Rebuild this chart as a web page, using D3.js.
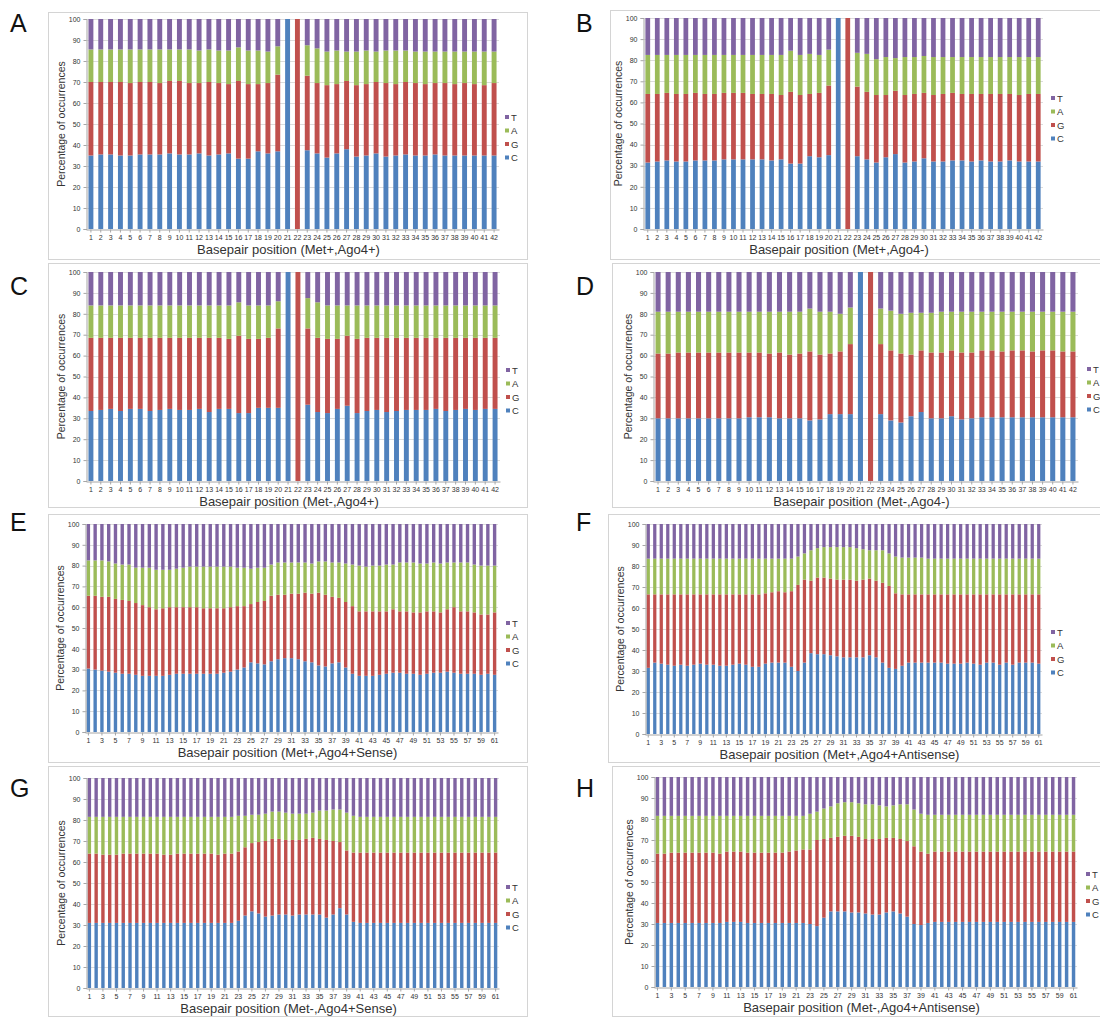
<!DOCTYPE html>
<html>
<head>
<meta charset="utf-8">
<script src="https://cdn.jsdelivr.net/npm/d3@7"></script>
<style>
body { margin:0; background:#fff; }
svg { font-family: "Liberation Sans", Arial, sans-serif; }
</style>
</head>
<body>
<script>
var W = 1100, H = 1018;

// bases, bottom to top of each stack
var bases = ["C", "G", "A", "T"];
var baseColors = {C:"#4f81bd", G:"#c0504d", A:"#9bbb59", T:"#8064a2"};
var yTicks = [0,10,20,30,40,50,60,70,80,90,100];

// panel A (Met+,Ago4+)
var aC = [35,35.5,35.5,35,35,35.5,35.5,35.5,36,35.5, 35.5,36,35,35.5,36,33.5,33.5,37,36,37, 100,0,37.5,36,34,36,38,34.5,35,36, 34.5,35,35.5,35,35,35.5,35,35,35,35, 35,35];
var aG = [35,34.5,34.5,35,34.5,34.5,34.5,34,34.5,35, 34,33.5,35,34,33,37,35.5,32,33.5,36.5, 0,100,35.5,33.5,34.5,33,32.5,34,34,34, 35,34,34.5,34.5,34,34,34.5,34,34.5,34, 33.5,34.5];
var aA = [15.5,15.5,15.5,15.5,16,15.5,15.5,16,15,15, 16,15.5,15.5,15.5,16,16,16,16,15,13.5, 0,0,14.5,16.5,16,16,14,16,16,14.5, 15.5,16,15,15,15.5,15,15,15.5,15,15.5, 16,15];
var aT = [14.5,14.5,14.5,14.5,14.5,14.5,14.5,14.5,14.5,14.5, 14.5,15,14.5,15,15,13.5,15,15,15.5,13, 0,0,12.5,14,15.5,15,15.5,15.5,15,15.5, 15,15,15,15.5,15.5,15.5,15.5,15.5,15.5,15.5, 15.5,15.5];

// panel B (Met+,Ago4-)
var bC = [31.5,32,32.5,32,32,32.5,32.5,32.5,33,33, 33,33,33,32.5,33,31,31,34.5,34,35, 100,0,34.5,33,31.5,34,35.5,31.5,32,33.5, 32,32,32.5,32.5,32,32.5,32,32,32.5,32, 32,32];
var bG = [32.5,32,32,32,32,32,31.5,31.5,31.5,31.5, 31.5,31,31,31.5,30.5,34,32.5,29.5,30.5,33, 0,100,33,32,32,29.5,30,32,32,31, 31.5,32,32,31.5,32,31.5,32,32,31.5,31.5, 32,32];
var bA = [18.5,18.5,18,18.5,18.5,18,18.5,18.5,18,18, 18,18.5,18.5,18.5,19,19.5,19,19,18,17, 0,0,16,18,17,18,15.5,18,17.5,17.5, 18,17.5,17,17.5,17.5,17.5,17.5,17.5,17.5,18, 17.5,17.5];
var bT = [17.5,17.5,17.5,17.5,17.5,17.5,17.5,17.5,17.5,17.5, 17.5,17.5,17.5,17.5,17.5,15.5,17.5,17,17.5,15, 0,0,16.5,17,19.5,18.5,19,18.5,18.5,18, 18.5,18.5,18.5,18.5,18.5,18.5,18.5,18.5,18.5,18.5, 18.5,18.5];

// panel C (Met-,Ago4+)
var cC = [33.5,34,34.5,33.5,34.5,34.5,33.5,34,34.5,34, 34,34.5,33,34.5,34.5,32.5,32.5,35,35,35, 100,0,36.5,33,32.5,34.5,36,32.5,33.5,34, 33,33.5,34,34,34,34.5,33.5,34,34.5,34, 34.5,34.5];
var cG = [35,34.5,34,35,34,34,35,34.5,34,34.5, 34.5,34,35.5,34,33.5,37,35.5,33,33.5,38, 0,100,36.5,35.5,35.5,33.5,33.5,35.5,35,34.5, 35.5,35,34.5,34.5,34.5,34,35,34.5,34,34.5, 34,34];
var cA = [15.5,15.5,15.5,15.5,15.5,15.5,15.5,15.5,15.5,15.5, 15.5,15.5,15.5,15.5,16,16,16,16,15.5,13, 0,0,14.5,17,16,16,14.5,16,15.5,15.5, 15.5,15.5,15.5,15.5,15.5,15.5,15.5,15.5,15.5,15.5, 15.5,15.5];
var cT = [16,16,16,16,16,16,16,16,16,16, 16,16,16,16,16,14.5,16,16,16,14, 0,0,12.5,14.5,16,16,16,16,16,16, 16,16,16,16,16,16,16,16,16,16, 16,16];

// panel D (Met-,Ago4-)
var dC = [30,30,30,30,30,30,30,30,30,30.5, 30.5,30.5,30,30,30,29,29.5,32,32,32, 100,0,32,29,28,31,33,30,30,31, 29.5,30,30.5,30.5,30.5,30.5,30.5,30.5,30.5,30.5, 30.5,30.5];
var dG = [31,31,31.5,31.5,31.5,31.5,31.5,31.5,31.5,31, 31,30.5,31.5,30.5,31,33,31,29,30,33.5, 0,100,33.5,33.5,33,29.5,29.5,31.5,31.5,31.5, 32,31.5,32,32,31.5,32,32,31.5,32,32, 31.5,31.5];
var dA = [20,20,19.5,19.5,19.5,19.5,19.5,19.5,19.5,19.5, 19.5,20,19.5,20.5,20,20.5,20.5,20,18,17.5, 0,0,17,19,19,20,18,19,19.5,18.5, 19.5,19.5,18.5,18.5,19,18.5,18.5,19,18.5,18.5, 19,19];
var dT = [19,19,19,19,19,19,19,19,19,19, 19,19,19,19,19,17.5,19,19,20,17, 0,0,17.5,18.5,20,19.5,19.5,19.5,19,19, 19,19,19,19,19,19,19,19,19,19, 19,19];

// panel E (Met+,Ago4+Sense)
var eC = [30.5,30,29.5,29,28.5,28,28,27.5,27,27, 27,27,27.5,28,28,28,28,28,28,28, 28.5,29,30,31,33.5,33,32.5,34,35,35.5, 35.5,35,34,33.5,32,31.5,33,33.5,31,28, 27,27,27,27.5,28,28.5,28.5,28,28,27.5, 28,28.5,28.5,29,28.5,28,28,28,27.5,28, 27.5];
var eG = [35,35.5,35.5,36,35.5,35.5,35,34.5,34,33, 32,32.5,32.5,32,32,32,32,31.5,31.5,31.5, 31,31,30.5,29.5,28,29.5,30.5,31.5,31,30.5, 31,31.5,33,33,35,34.5,32,31,31.5,32.5, 31,31,31,30.5,30,30.5,29.5,30,29.5,30, 30,29.5,29,30,31.5,30,30,29.5,29,28.5, 30];
var eA = [17,17,17.5,17,17,17,17.5,17,18,19, 19,18.5,18,18.5,19,19.5,19.5,20,20,20, 20,19.5,18.5,18.5,17,16.5,16,15,15.5,15.5, 15,15,14.5,14.5,15,16,16.5,17,18.5,20, 22,21.5,22,22,22.5,21.5,23.5,23.5,24,23.5, 23,23.5,23.5,22.5,21.5,23.5,23.5,23,23.5,23.5, 22.5];
var eT = [17.5,17.5,17.5,18,19,19.5,19.5,21,21,21, 22,22,22,21.5,21,20.5,20.5,20.5,20.5,20.5, 20.5,20.5,21,21,21.5,21,21,19.5,18.5,18.5, 18.5,18.5,18.5,19,18,18,18.5,18.5,19,19.5, 20,20.5,20,20,19.5,19.5,18.5,18.5,18.5,19, 19,18.5,19,18.5,18.5,18.5,18.5,19.5,20,20, 20];

// panel F (Met+,Ago4+Antisense)
var fC = [31.5,34,33.5,33,32.5,33,32.5,33,33.5,33, 33,32.5,32.5,33,33.5,33,32,32,33.5,34, 34,34,32,30,34,38.5,38,38,37.5,37, 36.5,36.5,36.5,36.5,37.5,36.5,34,31.5,31,32.5, 34,34,34,34,34,34,33.5,33.5,33.5,34, 33.5,33,34,34,33,34,33,34,34,34, 33.5];
var fG = [35,32.5,33,33.5,34,33.5,34,33.5,33,33.5, 33.5,34,34,33.5,33,33.5,34.5,34.5,33.5,33.5, 34,33.5,36,41,39.5,34.5,36.5,36.5,36.5,36.5, 37,37,36.5,37,36.5,36.5,38,39,36,34, 32.5,32.5,32.5,32.5,32.5,32.5,33,33,33,32.5, 33,33.5,32.5,32.5,33.5,32.5,33.5,32.5,32.5,32.5, 33];
var fA = [17,17,17,17,17,17,17,17,17,17, 17,17,17,17,17,17,17,17,16.5,16, 15.5,16,15.5,13.5,12.5,14.5,14,14.5,15,15.5, 15.5,15.5,15.5,14.5,13.5,14.5,15.5,15.5,17.5,17.5, 17.5,17.5,17.5,17,17,17,17,17,17,17, 17,17,17,17,17,17,17,17,17,17, 17];
var fT = [16.5,16.5,16.5,16.5,16.5,16.5,16.5,16.5,16.5,16.5, 16.5,16.5,16.5,16.5,16.5,16.5,16.5,16.5,16.5,16.5, 16.5,16.5,16.5,15.5,14,12.5,11.5,11,11,11, 11,11,11.5,12,12.5,12.5,12.5,14,15.5,16, 16,16,16,16.5,16.5,16.5,16.5,16.5,16.5,16.5, 16.5,16.5,16.5,16.5,16.5,16.5,16.5,16.5,16.5,16.5, 16.5];

// panel G (Met-,Ago4+Sense)
var gC = [31,31,31,31,31,31,31,31,31,31, 31,31,31,31,31,31,31,31,31,31, 31,31,32,34.5,36.5,35.5,34,34.5,35,35, 34.5,35,35,35,35,33.5,35,38,35,31.5, 31,31,31,31,31,31,31,31,31,31, 31,31,31,31,31,31,31,31,31,31, 31];
var gG = [33,33,32.5,32.5,32.5,33,33,33,33,33, 33,32.5,32.5,33,33,33,33,33,33,32.5, 33,33,33,32.5,32.5,34,36,36.5,36,35.5, 36,35.5,36,36.5,36,37,35,31.5,30.5,33, 33.5,33.5,33.5,33.5,33.5,33.5,33.5,33.5,33.5,33.5, 33.5,33.5,33.5,33.5,33.5,33.5,33.5,33.5,33.5,33.5, 33.5];
var gA = [17.5,17.5,18,18,18,17.5,17.5,17.5,17.5,17.5, 17.5,18,18,17.5,17.5,17.5,17.5,17.5,17.5,18, 17.5,17.5,17,15,13.5,13,13,13,13,13, 12.5,12.5,12,12,13.5,14,15,15.5,18,17.5, 17,17,17,17,17,17,17,17,17,17, 17,17,17,17,17,17,17,17,17,17, 17];
var gT = [18.5,18.5,18.5,18.5,18.5,18.5,18.5,18.5,18.5,18.5, 18.5,18.5,18.5,18.5,18.5,18.5,18.5,18.5,18.5,18.5, 18.5,18.5,18,18,17.5,17.5,17,16,16,16.5, 17,17,17,16.5,15.5,15.5,15,15,16.5,18, 18.5,18.5,18.5,18.5,18.5,18.5,18.5,18.5,18.5,18.5, 18.5,18.5,18.5,18.5,18.5,18.5,18.5,18.5,18.5,18.5, 18.5];

// panel H (Met-,Ago4+Antisense)
var hC = [30.5,30.5,30.5,30.5,30.5,30.5,30.5,30.5,30.5,30.5, 31,31,31,30.5,30.5,30.5,30.5,30.5,30.5,30.5, 30.5,30.5,30,29,33,36,36,36,35.5,35.5, 35,34.5,34.5,35.5,36,35,33.5,30,29.5,30.5, 31,31,31,31,31,31,31,31,31,31, 31,31,31,31,31,31,31,31,31,31, 31];
var hG = [33,33,33.5,33.5,33.5,33.5,33.5,33.5,33.5,33, 33.5,33.5,33.5,33.5,33.5,33.5,33.5,33.5,33.5,34, 34.5,35,35.5,41,37.5,35,35.5,36,36.5,36, 35.5,36,36,35.5,35,35.5,36,37,35,33, 33.5,33.5,33.5,33.5,33.5,33.5,33.5,33.5,33.5,33.5, 33.5,33.5,33.5,33.5,33.5,33.5,33.5,33.5,33.5,33.5, 33.5];
var hA = [18,18,17.5,17.5,17.5,17.5,17.5,17.5,17.5,18, 17,17,17,17.5,17.5,17.5,17.5,17.5,17.5,17, 16.5,16,17,13.5,14.5,15,16,16,16,16, 16.5,16.5,16,15,15.5,16.5,17.5,17.5,18,18.5, 17.5,17.5,17.5,17.5,17.5,17.5,17.5,17.5,17.5,17.5, 17.5,17.5,17.5,17.5,17.5,17.5,17.5,17.5,17.5,17.5, 17.5];
var hT = [18.5,18.5,18.5,18.5,18.5,18.5,18.5,18.5,18.5,18.5, 18.5,18.5,18.5,18.5,18.5,18.5,18.5,18.5,18.5,18.5, 18.5,18.5,17.5,16.5,15,14,12.5,12,12,12.5, 13,13,13.5,14,13.5,13,13,15.5,17.5,18, 18,18,18,18,18,18,18,18,18,18, 18,18,18,18,18,18,18,18,18,18, 18];

// layout: box = chart border, plot = [left, top, right, bottom]
var panels = [
  {letter:"A", title:"Basepair position (Met+,Ago4+)", vals:[aC,aG,aA,aT], box:[48,12,527,259], plot:[86,19,499,229], leg:[507,117], lp:[10,32]},
  {letter:"B", title:"Basepair position (Met+,Ago4-)", vals:[bC,bG,bA,bT], box:[610,10,1106,259], plot:[643,18,1043,229], leg:[1053,98], lp:[576,32]},
  {letter:"C", title:"Basepair position (Met-,Ago4+)", vals:[cC,cG,cA,cT], box:[48,263,527,507], plot:[86,272,500,481], leg:[508,370], lp:[10,295]},
  {letter:"D", title:"Basepair position (Met-,Ago4-)", vals:[dC,dG,dA,dT], box:[612,263,1106,507], plot:[653,272,1078,481], leg:[1089,369], lp:[576,295]},
  {letter:"E", title:"Basepair position (Met+,Ago4+Sense)", vals:[eC,eG,eA,eT], box:[48,514,527,762], plot:[85,524,498,732], leg:[508,623], lp:[10,531]},
  {letter:"F", title:"Basepair position (Met+,Ago4+Antisense)", vals:[fC,fG,fA,fT], box:[608,514,1106,762], plot:[645,524,1042,734], leg:[1053,632], lp:[576,531]},
  {letter:"G", title:"Basepair position (Met-,Ago4+Sense)", vals:[gC,gG,gA,gT], box:[48,766,527,1016], plot:[86,778,499,988], leg:[508,887], lp:[10,797]},
  {letter:"H", title:"Basepair position (Met-,Ago4+Antisense)", vals:[hC,hG,hA,hT], box:[612,766,1106,1016], plot:[654,777,1077,987], leg:[1088,874], lp:[576,797]}
];

var svg = d3.select("body").append("svg")
    .attr("width", W)
    .attr("height", H);

panels.forEach(function(p){
    var n = p.vals[0].length;
    var positions = d3.range(1, n + 1);
    var rows = positions.map(function(pos, i){
        var r = {pos: pos};
        bases.forEach(function(b, k){ r[b] = p.vals[k][i]; });
        return r;
    });
    var series = d3.stack().keys(bases)(rows);

    var x = d3.scaleBand()
        .domain(positions)
        .range([p.plot[0], p.plot[2]])
        .paddingInner(0.5)
        .paddingOuter(0.25);
    var y = d3.scaleLinear()
        .domain([0, 100])
        .range([p.plot[3], p.plot[1]]);

    var g = svg.append("g");

    // chart border
    g.append("rect")
        .attr("x", p.box[0] + 0.5).attr("y", p.box[1] + 0.5)
        .attr("width", p.box[2] - p.box[0]).attr("height", p.box[3] - p.box[1])
        .attr("fill", "none").attr("stroke", "#d4d4d4");

    // gridlines
    g.selectAll(".grid").data(yTicks.slice(1)).enter().append("line")
        .attr("x1", p.plot[0]).attr("x2", p.plot[2])
        .attr("y1", function(d){ return Math.round(y(d)) + 0.5; })
        .attr("y2", function(d){ return Math.round(y(d)) + 0.5; })
        .attr("stroke", "#dcdcdc").attr("stroke-width", 1);

    // stacked bars
    g.selectAll(".s").data(series).enter().append("g")
        .attr("fill", function(s){ return baseColors[s.key]; })
      .selectAll("rect").data(function(s){ return s; }).enter().append("rect")
        .attr("x", function(d){ return x(d.data.pos); })
        .attr("width", x.bandwidth())
        .attr("y", function(d){ return y(d[1]); })
        .attr("height", function(d){ return Math.max(0, y(d[0]) - y(d[1])); });

    // y axis
    var yAxis = d3.axisLeft(y).tickValues(yTicks).tickSize(3).tickPadding(3);
    var ya = g.append("g")
        .attr("transform", "translate(" + (p.plot[0] + 0.5) + ",0)")
        .call(yAxis);
    ya.select(".domain").attr("stroke", "#a6a6a6");
    ya.selectAll(".tick line").attr("stroke", "#a6a6a6");
    ya.selectAll("text").attr("font-size", 7).attr("fill", "#333")
        .attr("font-family", "Liberation Sans, Arial, sans-serif");

    // x axis
    var xAxis = d3.axisBottom(x)
        .tickValues(n > 50 ? positions.filter(function(v){ return v % 2 === 1; }) : positions)
        .tickSize(3).tickPadding(3).tickSizeOuter(0);
    var xa = g.append("g")
        .attr("transform", "translate(0," + (p.plot[3] + 0.5) + ")")
        .call(xAxis);
    xa.select(".domain").attr("stroke", "#a6a6a6");
    xa.selectAll(".tick line").attr("stroke", "#a6a6a6");
    xa.selectAll("text").attr("font-size", 7).attr("fill", "#333")
        .attr("font-family", "Liberation Sans, Arial, sans-serif");

    // axis titles
    g.append("text")
        .attr("transform", "translate(" + (p.plot[0] - 21) + "," + ((p.plot[1] + p.plot[3]) / 2) + ") rotate(-90)")
        .attr("text-anchor", "middle")
        .attr("font-size", 10.5).attr("fill", "#333")
        .text("Percentage of occurrences");
    g.append("text")
        .attr("x", (p.plot[0] + p.plot[2]) / 2 - 4)
        .attr("y", p.plot[3] + 25)
        .attr("text-anchor", "middle")
        .attr("font-size", 13).attr("fill", "#333")
        .text(p.title);

    // legend, T on top
    var leg = g.selectAll(".leg").data(bases.slice().reverse()).enter().append("g")
        .attr("transform", function(d, i){ return "translate(" + p.leg[0] + "," + (p.leg[1] + i * 13.5) + ")"; });
    leg.append("rect")
        .attr("x", -2).attr("y", -2).attr("width", 4).attr("height", 4)
        .attr("fill", function(d){ return baseColors[d]; });
    leg.append("text")
        .attr("x", 4).attr("y", 3.5)
        .attr("font-size", 9.5).attr("fill", "#333")
        .text(function(d){ return d; });

    // panel letter
    svg.append("text")
        .attr("x", p.lp[0]).attr("y", p.lp[1])
        .attr("font-size", 25).attr("fill", "#111")
        .text(p.letter);
});
</script>
</body>
</html>
